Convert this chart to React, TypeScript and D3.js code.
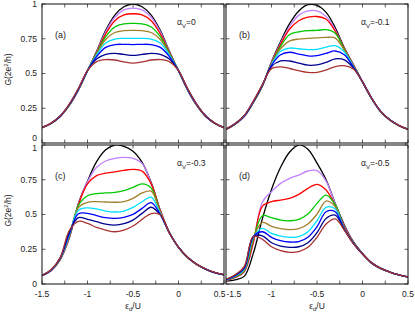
import React from "react";
import * as d3 from "d3";

// eps_d / U sample positions
const eps = [-1.5, -1.4, -1.3, -1.2, -1.1, -1.0, -0.9, -0.8, -0.7, -0.6, -0.5, -0.4, -0.3, -0.2, -0.1, 0.0, 0.1, 0.2, 0.3, 0.4, 0.5];

const colors = ["#000000", "#c080ff", "#ff0000", "#00c800", "#a0802a", "#00e0ff", "#0000ff", "#000090", "#a83232"];

const panelTags = ["(a)", "(b)", "(c)", "(d)"];
const alphaValues = ["0", "-0.1", "-0.3", "-0.5"];

const xTicks = [-1.5, -1.25, -1, -0.75, -0.5, -0.25, 0, 0.25, 0.5];
const xTickLabels = ["-1.5", "-1", "-0.5", "0", "0.5"];
const yTicks = [0, 0.25, 0.5, 0.75, 1];
const yTickLabels = ["0", "0.25", "0.5", "0.75", "1"];

// G(2e^2/h), alpha_V = 0
const gA = [
  [0.110, 0.140, 0.190, 0.270, 0.380, 0.520, 0.660, 0.810, 0.920, 0.980, 1.000, 0.980, 0.920, 0.810, 0.660, 0.520, 0.380, 0.270, 0.190, 0.140, 0.110],
  [0.110, 0.140, 0.190, 0.272, 0.382, 0.520, 0.655, 0.800, 0.905, 0.958, 0.970, 0.958, 0.905, 0.800, 0.655, 0.520, 0.382, 0.272, 0.190, 0.140, 0.110],
  [0.110, 0.141, 0.191, 0.273, 0.383, 0.520, 0.650, 0.785, 0.880, 0.922, 0.930, 0.922, 0.880, 0.785, 0.650, 0.520, 0.383, 0.273, 0.191, 0.141, 0.110],
  [0.110, 0.141, 0.192, 0.274, 0.385, 0.520, 0.645, 0.765, 0.835, 0.857, 0.860, 0.857, 0.835, 0.765, 0.645, 0.520, 0.385, 0.274, 0.192, 0.141, 0.110],
  [0.110, 0.141, 0.192, 0.275, 0.386, 0.520, 0.640, 0.745, 0.795, 0.808, 0.810, 0.808, 0.795, 0.745, 0.640, 0.520, 0.386, 0.275, 0.192, 0.141, 0.110],
  [0.110, 0.142, 0.193, 0.276, 0.387, 0.520, 0.632, 0.720, 0.748, 0.753, 0.752, 0.753, 0.748, 0.720, 0.632, 0.520, 0.387, 0.276, 0.193, 0.142, 0.110],
  [0.110, 0.142, 0.193, 0.277, 0.388, 0.520, 0.622, 0.688, 0.708, 0.710, 0.708, 0.710, 0.708, 0.688, 0.622, 0.520, 0.388, 0.277, 0.193, 0.142, 0.110],
  [0.111, 0.142, 0.194, 0.278, 0.390, 0.520, 0.604, 0.638, 0.645, 0.637, 0.630, 0.637, 0.645, 0.638, 0.604, 0.520, 0.390, 0.278, 0.194, 0.142, 0.111],
  [0.111, 0.143, 0.195, 0.280, 0.392, 0.520, 0.585, 0.600, 0.597, 0.583, 0.575, 0.583, 0.597, 0.600, 0.585, 0.520, 0.392, 0.280, 0.195, 0.143, 0.111],
];

// alpha_V = -0.1
const gB = [
  [0.098, 0.135, 0.190, 0.290, 0.410, 0.585, 0.730, 0.860, 0.950, 0.995, 0.990, 0.940, 0.830, 0.685, 0.565, 0.440, 0.320, 0.225, 0.165, 0.125, 0.098],
  [0.098, 0.136, 0.191, 0.292, 0.412, 0.580, 0.720, 0.840, 0.920, 0.950, 0.950, 0.910, 0.815, 0.680, 0.562, 0.440, 0.320, 0.225, 0.165, 0.125, 0.098],
  [0.098, 0.136, 0.192, 0.293, 0.412, 0.575, 0.710, 0.820, 0.880, 0.905, 0.910, 0.890, 0.805, 0.678, 0.560, 0.440, 0.321, 0.226, 0.165, 0.125, 0.098],
  [0.099, 0.137, 0.193, 0.294, 0.413, 0.570, 0.695, 0.780, 0.800, 0.808, 0.810, 0.815, 0.790, 0.672, 0.556, 0.440, 0.321, 0.226, 0.166, 0.125, 0.098],
  [0.099, 0.137, 0.193, 0.295, 0.414, 0.567, 0.680, 0.735, 0.748, 0.752, 0.756, 0.760, 0.755, 0.668, 0.553, 0.440, 0.322, 0.226, 0.166, 0.126, 0.099],
  [0.099, 0.138, 0.194, 0.296, 0.415, 0.563, 0.660, 0.683, 0.678, 0.672, 0.674, 0.690, 0.700, 0.655, 0.549, 0.440, 0.322, 0.227, 0.166, 0.126, 0.099],
  [0.100, 0.138, 0.195, 0.297, 0.416, 0.558, 0.635, 0.653, 0.640, 0.627, 0.628, 0.645, 0.662, 0.635, 0.546, 0.440, 0.322, 0.227, 0.167, 0.126, 0.099],
  [0.100, 0.139, 0.196, 0.298, 0.418, 0.550, 0.590, 0.590, 0.575, 0.560, 0.562, 0.580, 0.605, 0.598, 0.540, 0.440, 0.323, 0.227, 0.167, 0.127, 0.100],
  [0.100, 0.140, 0.197, 0.300, 0.420, 0.535, 0.548, 0.536, 0.520, 0.508, 0.508, 0.525, 0.550, 0.556, 0.532, 0.440, 0.323, 0.228, 0.167, 0.127, 0.100],
];

// alpha_V = -0.3
const gC = [
  [0.060, 0.095, 0.175, 0.330, 0.580, 0.740, 0.880, 0.965, 1.000, 0.990, 0.955, 0.875, 0.730, 0.530, 0.370, 0.262, 0.190, 0.140, 0.105, 0.080, 0.065],
  [0.060, 0.096, 0.177, 0.335, 0.575, 0.735, 0.840, 0.885, 0.904, 0.911, 0.904, 0.868, 0.725, 0.528, 0.370, 0.263, 0.190, 0.140, 0.105, 0.080, 0.065],
  [0.060, 0.097, 0.179, 0.340, 0.570, 0.720, 0.780, 0.797, 0.806, 0.818, 0.825, 0.812, 0.720, 0.525, 0.370, 0.264, 0.191, 0.141, 0.106, 0.081, 0.066],
  [0.061, 0.098, 0.181, 0.345, 0.565, 0.635, 0.650, 0.655, 0.659, 0.671, 0.695, 0.720, 0.690, 0.515, 0.369, 0.264, 0.191, 0.141, 0.106, 0.081, 0.066],
  [0.061, 0.098, 0.182, 0.350, 0.550, 0.588, 0.592, 0.590, 0.588, 0.592, 0.616, 0.655, 0.668, 0.510, 0.369, 0.264, 0.191, 0.141, 0.106, 0.081, 0.066],
  [0.061, 0.099, 0.184, 0.355, 0.530, 0.548, 0.540, 0.525, 0.518, 0.525, 0.551, 0.592, 0.625, 0.505, 0.368, 0.265, 0.192, 0.142, 0.107, 0.082, 0.066],
  [0.062, 0.100, 0.186, 0.362, 0.505, 0.508, 0.492, 0.477, 0.472, 0.480, 0.501, 0.544, 0.585, 0.500, 0.368, 0.265, 0.192, 0.142, 0.107, 0.082, 0.067],
  [0.062, 0.101, 0.188, 0.372, 0.477, 0.465, 0.448, 0.431, 0.424, 0.434, 0.460, 0.508, 0.552, 0.497, 0.367, 0.265, 0.192, 0.142, 0.107, 0.082, 0.067],
  [0.063, 0.102, 0.190, 0.385, 0.451, 0.436, 0.407, 0.388, 0.376, 0.388, 0.417, 0.465, 0.507, 0.498, 0.366, 0.266, 0.193, 0.143, 0.108, 0.083, 0.067],
];

// alpha_V = -0.5
const gD = [
  [0.020, 0.030, 0.055, 0.220, 0.470, 0.680, 0.840, 0.950, 1.000, 0.970, 0.870, 0.750, 0.580, 0.425, 0.305, 0.220, 0.150, 0.110, 0.085, 0.065, 0.050],
  [0.026, 0.045, 0.085, 0.290, 0.590, 0.664, 0.724, 0.760, 0.784, 0.813, 0.815, 0.740, 0.575, 0.415, 0.300, 0.218, 0.152, 0.112, 0.086, 0.066, 0.051],
  [0.027, 0.048, 0.090, 0.300, 0.560, 0.592, 0.604, 0.616, 0.645, 0.688, 0.717, 0.676, 0.565, 0.410, 0.298, 0.218, 0.152, 0.112, 0.086, 0.066, 0.051],
  [0.028, 0.051, 0.095, 0.320, 0.491, 0.477, 0.460, 0.455, 0.465, 0.503, 0.580, 0.640, 0.570, 0.400, 0.296, 0.217, 0.152, 0.112, 0.086, 0.066, 0.051],
  [0.029, 0.054, 0.100, 0.330, 0.443, 0.415, 0.398, 0.391, 0.398, 0.432, 0.503, 0.597, 0.556, 0.398, 0.294, 0.217, 0.152, 0.112, 0.086, 0.066, 0.051],
  [0.030, 0.057, 0.105, 0.335, 0.400, 0.364, 0.345, 0.336, 0.340, 0.376, 0.455, 0.551, 0.540, 0.395, 0.294, 0.216, 0.152, 0.112, 0.086, 0.066, 0.051],
  [0.031, 0.060, 0.112, 0.340, 0.376, 0.336, 0.312, 0.302, 0.305, 0.336, 0.412, 0.520, 0.520, 0.392, 0.293, 0.216, 0.152, 0.112, 0.086, 0.066, 0.051],
  [0.032, 0.063, 0.118, 0.342, 0.347, 0.297, 0.273, 0.264, 0.268, 0.297, 0.369, 0.472, 0.496, 0.390, 0.292, 0.216, 0.152, 0.112, 0.086, 0.066, 0.051],
  [0.033, 0.066, 0.125, 0.342, 0.321, 0.268, 0.240, 0.228, 0.233, 0.264, 0.336, 0.432, 0.468, 0.388, 0.291, 0.215, 0.152, 0.112, 0.086, 0.066, 0.051],
];

const W = 415;
const H = 313;
const FONT = "'Liberation Sans', Arial, sans-serif";

const panels = [
  { data: gA, x0: 42, y0: 4, left: true, bottom: false },
  { data: gB, x0: 226, y0: 4, left: false, bottom: false },
  { data: gC, x0: 42, y0: 145, left: true, bottom: true },
  { data: gD, x0: 226, y0: 145, left: false, bottom: true },
];
const PW = 182;
const PH = 139;
const TICK = 3.5;

function Panel({ p, i }: { p: typeof panels[number]; i: number }) {
  const x = d3.scaleLinear().domain([-1.5, 0.5]).range([p.x0, p.x0 + PW]);
  const y = d3.scaleLinear().domain([0, 1]).range([p.y0 + PH, p.y0]);
  const line = d3
    .line<number>()
    .x((_, k) => x(eps[k]))
    .y((v) => y(v))
    .curve(d3.curveCatmullRom.alpha(0.5));
  const clipId = `clip${i}`;
  return (
    <g>
      <clipPath id={clipId}>
        <rect x={p.x0} y={p.y0} width={PW} height={PH} />
      </clipPath>
      <g clipPath={`url(#${clipId})`}>
        {p.data.map((row, k) => (
          <path key={k} d={line(row) || ""} fill="none" stroke={colors[k]} strokeWidth={1.3} />
        ))}
      </g>
      {/* inward ticks on all four sides */}
      {xTicks.map((t) => (
        <g key={"x" + t} stroke="#333" strokeWidth={0.8}>
          <line x1={x(t)} x2={x(t)} y1={p.y0 + PH} y2={p.y0 + PH - TICK} />
          <line x1={x(t)} x2={x(t)} y1={p.y0} y2={p.y0 + TICK} />
        </g>
      ))}
      {yTicks.map((t) => (
        <g key={"y" + t} stroke="#333" strokeWidth={0.8}>
          <line x1={p.x0} x2={p.x0 + TICK} y1={y(t)} y2={y(t)} />
          <line x1={p.x0 + PW} x2={p.x0 + PW - TICK} y1={y(t)} y2={y(t)} />
        </g>
      ))}
      <rect x={p.x0} y={p.y0} width={PW} height={PH} fill="none" stroke="#222" strokeWidth={1.1} />
      {p.left &&
        yTicks.map((t, k) => {
          let dy = 0;
          if (!p.bottom && t === 0) dy = -4.5;
          if (p.bottom && t === 1) dy = 3;
          return (
            <text key={"yl" + t} x={p.x0 - 5} y={y(t) + dy} dy="0.35em" textAnchor="end" fontSize={8.5} fontFamily={FONT} fill="#222">
              {yTickLabels[k]}
            </text>
          );
        })}
      {p.bottom &&
        xTickLabels.map((lbl, k) => {
          const v = +lbl;
          let anchor = "middle";
          let dx = 0;
          if (p.left && v === 0.5) { anchor = "end"; dx = 1.5; }
          if (!p.left && v === -1.5) { anchor = "start"; dx = 0.5; }
          return (
            <text key={"xl" + k} x={x(v) + dx} y={p.y0 + PH + 13} textAnchor={anchor} fontSize={8.5} fontFamily={FONT} fill="#222">
              {lbl}
            </text>
          );
        })}
      <text x={p.x0 + 13} y={p.y0 + 34} fontSize={9} fontFamily={FONT} fill="#222">
        {panelTags[i]}
      </text>
      <text x={p.x0 + 135} y={p.y0 + 21} fontSize={8.5} fontFamily={FONT} fill="#222">
        α<tspan fontSize={6} dy={2.5}>V</tspan>
        <tspan dy={-2.5}>={alphaValues[i]}</tspan>
      </text>
      {p.left && (
        <text
          transform={`translate(${11}, ${p.y0 + PH / 2 - 4}) rotate(-90)`}
          textAnchor="middle"
          fontSize={8.5}
          fontFamily={FONT}
          fill="#222"
        >
          G(2e<tspan fontSize={6} dy={-3}>2</tspan>
          <tspan dy={3}>/h)</tspan>
        </text>
      )}
      {p.bottom && (
        <text x={p.x0 + PW / 2} y={p.y0 + PH + 25} textAnchor="middle" fontSize={8.5} fontFamily={FONT} fill="#222">
          ε<tspan fontSize={6} dy={2}>d</tspan>
          <tspan dy={-2}>/U</tspan>
        </text>
      )}
    </g>
  );
}

export default function App() {
  return (
    <svg width={W} height={H} style={{ position: "absolute", left: 0, top: 0, background: "#fff" }}>
      {panels.map((p, i) => (
        <Panel key={i} p={p} i={i} />
      ))}
    </svg>
  );
}
